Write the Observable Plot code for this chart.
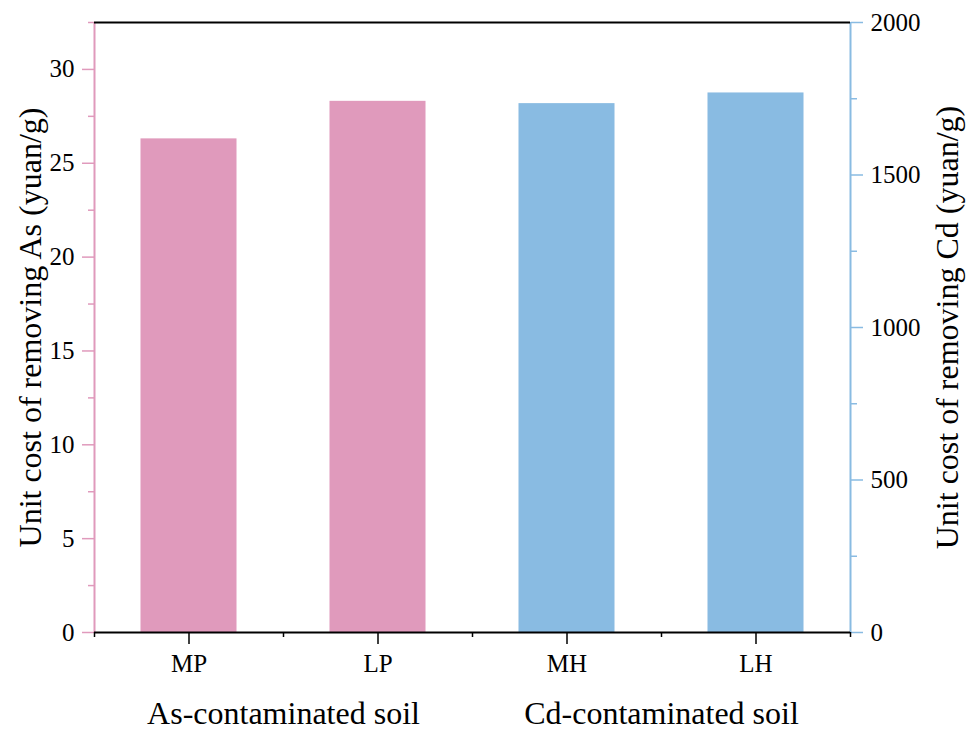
<!DOCTYPE html>
<html><head><meta charset="utf-8">
<script src="https://cdn.jsdelivr.net/npm/d3@7"></script>
<script src="https://cdn.jsdelivr.net/npm/@observablehq/plot@0.6"></script>
<style>body{margin:0;background:#fff}</style>
</head><body><div id="chart"></div>
<script>
const categories = ["MP", "LP", "MH", "LH"];
const asCost = [26.3, 28.3];          // yuan/g, left axis
const cdCost = [1734, 1769];          // yuan/g, right axis
const groups = ["As-contaminated soil", "Cd-contaminated soil"];
const leftTicks = [0, 5, 10, 15, 20, 25, 30];
const leftMinor = [2.5, 7.5, 12.5, 17.5, 22.5, 27.5, 32.5];
const rightTicks = [0, 500, 1000, 1500, 2000];
const rightMinor = [250, 750, 1250, 1750];
const leftTitle = "Unit cost of removing As (yuan/g)";
const rightTitle = "Unit cost of removing Cd (yuan/g)";

const pink = "#E09ABC";
const blue = "#89BBE2";
const leftMax = 32.5, rightMax = 2000;
const k = leftMax / rightMax;
const half = 0.254;

const asBars = asCost.map((v, i) => ({cat: categories[i], i, value: v}));
const cdBars = cdCost.map((v, j) => ({cat: categories[j + 2], i: j + 2, value: v * k}));
const catIdx = categories.map((c, i) => i + 0.5);
const bounds = d3.range(categories.length + 1);

const chart = Plot.plot({
  width: 969, height: 731,
  marginLeft: 94, marginRight: 119, marginTop: 22, marginBottom: 99,
  style: {fontFamily: "Liberation Serif", fontSize: "25px", background: "#fff", color: "#000"},
  x: {type: "linear", domain: [0, categories.length]},
  y: {domain: [0, leftMax]},
  marks: [
    Plot.rectY(asBars, {x1: d => d.i + 0.5 - half, x2: d => d.i + 0.5 + half, y1: 0, y2: "value", fill: pink}),
    Plot.rectY(cdBars, {x1: d => d.i + 0.5 - half, x2: d => d.i + 0.5 + half, y1: 0, y2: "value", fill: blue}),
    // left axis
    Plot.axisY({anchor: "left", ticks: leftTicks, tickSize: 12, tickPadding: 8, stroke: pink, strokeWidth: 1.5, label: null, fontSize: 25}),
    Plot.axisY({anchor: "left", ticks: leftMinor, tickSize: 6, tickFormat: () => "", stroke: pink, strokeWidth: 1.5, label: null}),
    // right axis
    Plot.axisY({anchor: "right", ticks: rightTicks.map(v => v * k), tickFormat: d => String(Math.round(d / k)), tickSize: 12, tickPadding: 8, stroke: blue, strokeWidth: 1.5, label: null, fontSize: 25}),
    Plot.axisY({anchor: "right", ticks: rightMinor.map(v => v * k), tickFormat: () => "", tickSize: 6, stroke: blue, strokeWidth: 1.5, label: null}),
    // bottom axis
    Plot.axisX({ticks: catIdx, tickFormat: d => categories[Math.floor(d)], tickSize: 12, tickPadding: 10, strokeWidth: 1.5, label: null, fontSize: 25}),
    Plot.axisX({ticks: bounds, tickFormat: () => "", tickSize: 5, strokeWidth: 1.5, label: null}),
    Plot.ruleX([0], {stroke: pink, strokeWidth: 2}),
    Plot.ruleX([categories.length], {stroke: blue, strokeWidth: 2}),
    Plot.ruleY([0], {stroke: "#000", strokeWidth: 2}),
    Plot.ruleY([leftMax], {stroke: "#000", strokeWidth: 2}),
    // group labels
    Plot.text(groups, {x: (d, i) => i * 2 + 1, frameAnchor: "bottom", dy: 81, fontSize: 32, lineAnchor: "middle", fill: "#000"}),
    // axis titles
    Plot.text([leftTitle], {frameAnchor: "left", textAnchor: "middle", dx: -64, rotate: -90, fontSize: 32, lineAnchor: "middle", fill: "#000"}),
    Plot.text([rightTitle], {frameAnchor: "right", textAnchor: "middle", dx: 97, rotate: -90, fontSize: 32, lineAnchor: "middle", fill: "#000"})
  ]
});
document.getElementById("chart").appendChild(chart);
</script>
</body></html>
